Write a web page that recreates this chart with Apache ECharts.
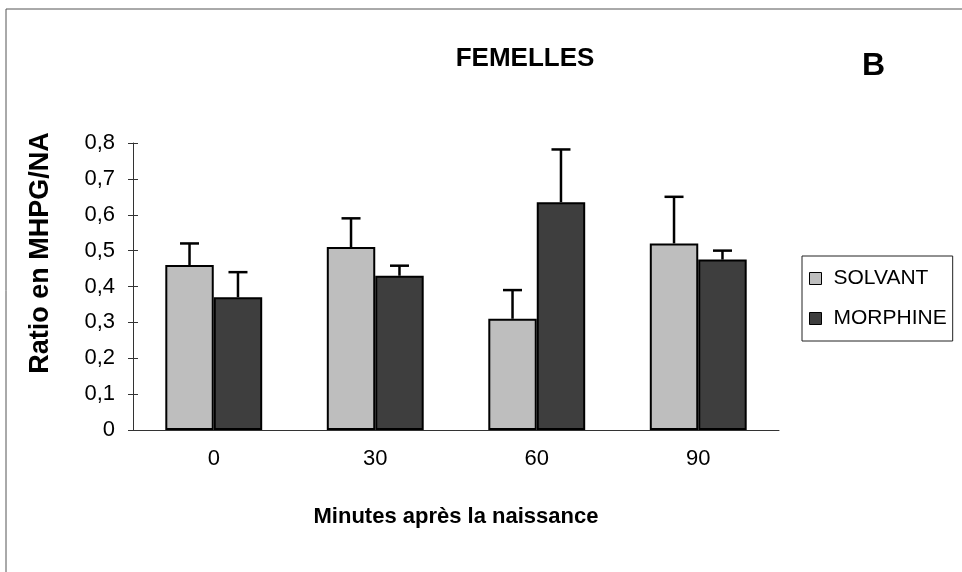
<!DOCTYPE html>
<html>
<head>
<meta charset="utf-8">
<script src="https://cdn.jsdelivr.net/npm/echarts@6/dist/echarts.min.js"></script>
<style>
  html, body { margin: 0; padding: 0; background: #fff; }
  #chart { width: 962px; height: 572px; }
</style>
</head>
<body>
<div id="chart"></div>
<script>
// Minutes after birth
const categories = ['0', '30', '60', '90'];
// Mean MHPG/NA ratio per group
const solvant = [0.46, 0.51, 0.31, 0.52];
const morphine = [0.37, 0.43, 0.635, 0.475];
// Error (upper bar only)
const solvantErr = [0.06, 0.08, 0.08, 0.13];
const morphineErr = [0.07, 0.028, 0.147, 0.025];
const yTicks = { min: 0, max: 0.8, step: 0.1 };

const FONT = '"Liberation Sans", Arial, sans-serif';
const LIGHT = '#bebebe';
const DARK = '#3e3e3e';

// draws an upper error whisker on the left (-1) or right (+1) bar of each pair
function errorRenderer(side) {
  return function (params, api) {
    const idx = api.value(0);
    const v = api.value(1);
    const e = api.value(2);
    const bandW = api.size([1, 0])[0];
    const barW = bandW * 0.6 / 2;
    const base = api.coord([idx, v]);
    const top = api.coord([idx, v + e]);
    const x = base[0] + side * barW / 2;
    const cap = 9.5;
    const style = { stroke: '#000', lineWidth: 2.5 };
    return {
      type: 'group',
      children: [
        { type: 'line', shape: { x1: x, y1: base[1], x2: x, y2: top[1] }, style },
        { type: 'line', shape: { x1: x - cap, y1: top[1], x2: x + cap, y2: top[1] }, style }
      ]
    };
  };
}

const axisColor = '#333';
const yFmt = v => v === 0 ? '0' : v.toFixed(1).replace('.', ',');

const chart = echarts.init(document.getElementById('chart'), null, { renderer: 'canvas' });
chart.setOption({
  backgroundColor: '#fff',
  animation: false,
  textStyle: { fontFamily: FONT, color: '#000' },
  title: {
    text: 'FEMELLES',
    left: 520, top: 41, textAlign: 'center',
    textStyle: { fontFamily: FONT, fontWeight: 'bold', fontSize: 26, color: '#000' }
  },
  legend: {
    orient: 'vertical',
    left: 802, top: 256,
    padding: [12, 6, 12, 7],
    itemGap: 19,
    itemWidth: 12, itemHeight: 12,
    icon: 'rect',
    borderColor: '#222', borderWidth: 1,
    textStyle: { fontFamily: FONT, fontSize: 21, color: '#000', padding: [0, 0, 0, 7] },
    itemStyle: { borderColor: '#000', borderWidth: 1 },
    data: ['SOLVANT', 'MORPHINE']
  },
  grid: { left: 133, right: 183, top: 143, bottom: 142 },
  xAxis: [
    {
      type: 'category',
      data: categories,
      name: 'Minutes après la naissance',
      nameLocation: 'middle',
      nameGap: 76,
      nameTextStyle: { fontFamily: FONT, fontWeight: 'bold', fontSize: 22, color: '#000' },
      axisLine: { lineStyle: { color: axisColor, width: 1 } },
      axisTick: { length: 5, lineStyle: { color: axisColor } },
      axisLabel: { margin: 18, fontSize: 22, color: '#000', fontFamily: FONT }
    },
    {
      // inner half of the crossing ticks
      type: 'category', data: categories, position: 'bottom',
      axisLine: { show: false },
      axisTick: { inside: true, length: 4, lineStyle: { color: axisColor } },
      axisLabel: { show: false }
    }
  ],
  yAxis: [
    {
      type: 'value',
      min: yTicks.min, max: yTicks.max, interval: yTicks.step,
      axisLine: { show: true, lineStyle: { color: axisColor, width: 1 } },
      axisTick: { show: true, length: 5, lineStyle: { color: axisColor } },
      splitLine: { show: false },
      axisLabel: { margin: 18, fontSize: 22, color: '#000', fontFamily: FONT, formatter: yFmt }
    },
    {
      // inner half of the crossing ticks
      type: 'value', position: 'left',
      min: yTicks.min, max: yTicks.max, interval: yTicks.step,
      axisLine: { show: false },
      axisTick: { show: true, inside: true, length: 5, lineStyle: { color: axisColor } },
      splitLine: { show: false },
      axisLabel: { show: false }
    }
  ],
  series: [
    {
      name: 'SOLVANT', type: 'bar', data: solvant,
      barGap: '0%', barCategoryGap: '40%',
      itemStyle: { color: LIGHT, borderColor: '#000', borderWidth: 2 }
    },
    {
      name: 'MORPHINE', type: 'bar', data: morphine,
      barGap: '0%', barCategoryGap: '40%',
      itemStyle: { color: DARK, borderColor: '#000', borderWidth: 2 }
    },
    {
      type: 'custom', name: 'solvantErr', clip: false, z: 5,
      renderItem: errorRenderer(-1),
      data: solvant.map((v, i) => [i, v, solvantErr[i]])
    },
    {
      type: 'custom', name: 'morphineErr', clip: false, z: 5,
      renderItem: errorRenderer(1),
      data: morphine.map((v, i) => [i, v, morphineErr[i]])
    }
  ],
  graphic: [
    // outer frame (top and left edges)
    { type: 'line', shape: { x1: 6, y1: 9, x2: 962, y2: 9 }, style: { stroke: '#555', lineWidth: 1 } },
    { type: 'line', shape: { x1: 6, y1: 9, x2: 6, y2: 572 }, style: { stroke: '#555', lineWidth: 1 } },
    {
      type: 'text', x: 41, y: 253, rotation: Math.PI / 2,
      style: {
        text: 'Ratio en MHPG/NA', font: 'bold 27px ' + FONT, fill: '#000',
        align: 'center', verticalAlign: 'middle'
      }
    },
    {
      type: 'text', left: 862, top: 50,
      style: { text: 'B', font: 'bold 32px ' + FONT, fill: '#000' }
    }
  ]
});
</script>
</body>
</html>
